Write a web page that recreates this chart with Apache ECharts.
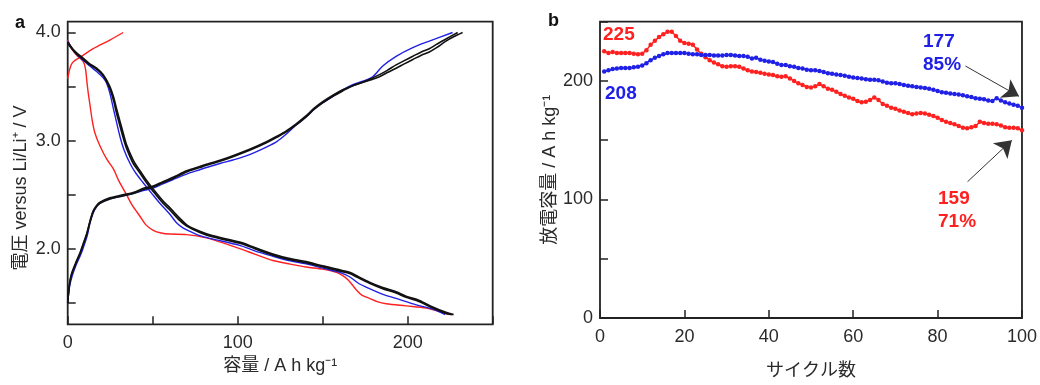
<!DOCTYPE html>
<html>
<head>
<meta charset="utf-8">
<script src="https://cdn.jsdelivr.net/npm/echarts@6/dist/echarts.min.js"></script>
<style>
  html, body { margin: 0; padding: 0; background: #fff; }
  #chart { width: 1040px; height: 385px; }
</style>
</head>
<body>
<div id="chart"></div>
<script>
// panel a: [capacity (A h/kg), voltage (V)]
const redCharge = [[0,3.57],[1,3.65],[2,3.7],[3.3,3.73],[7.2,3.77],[15,3.85],[24.8,3.93],[32.6,4.0]];
const redDischarge = [[0,3.93],[2,3.86],[5.3,3.79],[9.2,3.73],[10.5,3.66],[11.2,3.56],[12,3.45],[13.1,3.33],[14.5,3.18],[16,3.07],[19,2.95],[22.9,2.83],[26.8,2.74],[30,2.63],[34.6,2.5],[38,2.4],[42.5,2.3],[46,2.22],[50.3,2.17],[55,2.145],[60,2.135],[69.9,2.13],[81.6,2.1],[90,2.06],[101.2,2.0],[110,1.95],[120.7,1.89],[130,1.86],[140.3,1.83],[150,1.81],[158,1.78],[161.8,1.75],[165,1.71],[169.7,1.62],[173,1.57],[177.5,1.54],[182,1.51],[187.3,1.49],[199,1.47],[210.8,1.45],[218,1.42],[224.5,1.39]];
const blueCharge = [[0,1.5],[1,1.64],[2.5,1.74],[5,1.85],[7.5,1.94],[9,2.0],[11.5,2.12],[13,2.23],[15,2.33],[17,2.39],[19,2.42],[24.8,2.46],[30,2.48],[38.5,2.51],[45,2.54],[50.3,2.56],[56,2.6],[62,2.64],[70,2.69],[77.7,2.73],[83.6,2.76],[90,2.79],[97.2,2.82],[107,2.87],[116.9,2.94],[123,2.99],[128.6,3.06],[134,3.14],[140.3,3.22],[145,3.29],[150,3.35],[154.2,3.39],[161.8,3.47],[168,3.52],[173.6,3.55],[179.4,3.59],[185.3,3.69],[193.2,3.78],[203,3.86],[212.7,3.92],[226.4,4.0]];
const blueDischarge = [[0,3.92],[4,3.82],[9.2,3.74],[13,3.69],[17,3.64],[20.9,3.58],[22.9,3.53],[24.8,3.44],[26.8,3.3],[28,3.22],[30.7,3.04],[33,2.92],[36.6,2.79],[40,2.7],[44.4,2.61],[50,2.5],[54.2,2.42],[60,2.32],[64,2.24],[68,2.19],[72,2.16],[77.7,2.12],[85,2.09],[101.2,2.03],[110,1.98],[120.7,1.93],[130,1.89],[140.3,1.86],[150,1.82],[160,1.78],[165.8,1.74],[171,1.68],[177.5,1.63],[185,1.58],[193.2,1.54],[205,1.48],[214.7,1.44],[222,1.39]];
const blackChargeA = [[0,1.5],[1,1.66],[2.3,1.76],[5,1.87],[7.2,1.95],[9,2.03],[11.2,2.13],[13,2.24],[15,2.34],[17,2.39],[19,2.42],[24.8,2.46],[30,2.48],[38.5,2.51],[45,2.55],[50.3,2.57],[56,2.61],[62,2.65],[70,2.71],[77.7,2.75],[83.6,2.78],[90,2.81],[97.2,2.85],[107,2.91],[116.9,2.98],[123,3.03],[128.6,3.08],[134,3.14],[140.3,3.22],[145,3.29],[150,3.35],[156,3.41],[161.8,3.46],[168,3.51],[173.6,3.54],[178,3.56],[183.4,3.59],[188,3.63],[193.2,3.67],[198,3.71],[203,3.75],[208,3.79],[212.7,3.82],[217,3.86],[222.5,3.92],[227,3.96],[232.3,4.0]];
const blackChargeB = [[0,1.5],[1,1.67],[2.3,1.77],[5,1.88],[7.2,1.96],[9,2.04],[11.2,2.14],[13,2.25],[15,2.35],[17,2.4],[19,2.43],[24.8,2.47],[30,2.49],[38.5,2.52],[45,2.56],[50.3,2.58],[56,2.62],[62,2.66],[70,2.72],[77.7,2.76],[83.6,2.79],[90,2.82],[97.2,2.86],[107,2.92],[116.9,2.99],[123,3.04],[128.6,3.09],[134,3.15],[140.3,3.23],[145,3.3],[150,3.36],[156,3.42],[161.8,3.47],[168,3.51],[173.6,3.54],[178,3.57],[183.4,3.61],[188,3.65],[193.2,3.7],[198,3.74],[203,3.78],[208,3.82],[212.7,3.85],[217,3.89],[222.5,3.94],[229.4,4.0]];
const blackDischargeA = [[0,3.9],[4,3.82],[9.2,3.75],[13,3.7],[17,3.66],[20.9,3.6],[24.8,3.48],[27,3.37],[28.8,3.25],[30.7,3.14],[32.6,3.03],[34.6,2.93],[38.5,2.79],[42.5,2.7],[46.4,2.61],[50.3,2.53],[56.1,2.42],[60,2.36],[66,2.26],[70,2.21],[77.7,2.15],[85,2.11],[101.2,2.05],[110,2.0],[120.7,1.94],[130,1.9],[140.3,1.87],[150,1.83],[158,1.8],[165.8,1.77],[171,1.73],[177.5,1.68],[185.3,1.63],[193.2,1.59],[199,1.55],[206.9,1.51],[214.7,1.45],[222.5,1.4],[226,1.39]];
const blackDischargeB = [[0,3.91],[4,3.83],[9.2,3.76],[13,3.71],[17,3.67],[20.9,3.61],[24.8,3.5],[27,3.4],[28.8,3.29],[30.7,3.18],[32.6,3.07],[34.6,2.96],[38.5,2.82],[42.5,2.72],[46.4,2.63],[50.3,2.55],[56.1,2.44],[60,2.38],[66,2.28],[70,2.22],[77.7,2.16],[85,2.12],[101.2,2.06],[110,2.01],[120.7,1.95],[130,1.91],[140.3,1.88],[150,1.84],[158,1.81],[165.8,1.78],[171,1.74],[177.5,1.69],[185.3,1.64],[193.2,1.6],[199,1.56],[206.9,1.52],[214.7,1.46],[222.5,1.41],[227,1.39]];

// panel b: discharge capacity per cycle (cycles 1..100)
const cycles = Array.from({ length: 100 }, (_, i) => i + 1);
const redCapacity = [
  225,223.5,224.5,223.5,223.5,223.5,223.5,223,222.5,223,
  226,230.5,234,237,239.5,241.5,241.5,238,234,232,
  231.5,230.5,226.5,223,220,217.5,215.5,214,212.5,212,
  212.5,212.5,212,210.5,209,208,207.5,207,206,205.5,
  205,204,203.5,204,202,200,198,196.5,195,194.5,
  195.5,197.5,195.5,193.5,192.5,191,189,187.5,186,185,
  183,182,182.5,184,186,184,180.5,179,177.5,176.5,
  175,174,173,172,172.5,173,172.5,171.5,170.5,169,
  167,165.5,164.5,163.5,162,160.5,160,161,162,165.5,
  164.5,164,164,163.5,162.5,161,160.5,160.5,160,158.5
];
const blueCapacity = [
  208,209,210,210.5,211,211,211,211.5,212,213,
  215,217.5,219.5,221,222.5,223.5,223.5,223.5,223.5,223.5,
  223,222.5,222.5,222,222,222,221.5,221.5,221.5,222,
  222,221.5,221,221,220.5,219,219.5,218,217,216.5,
  216,214.5,213.5,213.5,212.5,212,211,210.5,209.5,209,
  209,208.5,207.5,206.5,206,205.5,205,204.5,203.5,203,
  202.5,202,201.5,201,201,200.5,199.5,198.5,198,198,
  197.5,196.5,196,195.5,195,194.5,194,193.5,192.5,191.5,
  190.5,190,189.5,189,188.5,188,187,186.5,185.5,185,
  184.5,183.5,183,185.5,183.5,182,181,180,179,177.5
];
// annotation arrows [cycle, capacity] from -> to
const blueArrow = [[86.6, 212.6], [99.3, 187]];
const redArrow = [[87.1, 115], [97.6, 150]];

const RED = "#ff2020";
const BLUE = "#2020e6";
const BLACK = "#111";
const FONT = "'Liberation Sans', 'Noto Sans CJK JP', sans-serif";
const TXT = "#2a2a2a";

const chart = echarts.init(document.getElementById("chart"));

const boxGrid = {
  show: true, borderColor: "#222", borderWidth: 1.8, backgroundColor: "transparent"
};
const baseAxis = {
  axisLine: { show: false },
  axisTick: { inside: true, length: 8, lineStyle: { color: "#222", width: 1.5 } },
  splitLine: { show: false },
  axisLabel: { color: TXT, fontSize: 18, fontFamily: FONT },
  nameTextStyle: { color: TXT, fontSize: 18, fontFamily: FONT },
};

function curve(data, color, width, z) {
  return {
    type: "line", xAxisIndex: 0, yAxisIndex: 0, data, smooth: 0.3,
    showSymbol: false, z, lineStyle: { color, width }, silent: true,
  };
}

chart.setOption({
  animation: false,
  grid: [
    Object.assign({ left: 67.7, top: 21.7, width: 425, height: 302.6 }, boxGrid),
    Object.assign({ left: 600, top: 21.7, width: 425, height: 302.6 }, boxGrid),
  ],
  xAxis: [
    Object.assign({}, baseAxis, {
      type: "value", gridIndex: 0, min: 0, max: 250, interval: 50,
      name: "容量 / A h kg⁻¹", nameLocation: "middle", nameGap: 31,
      axisLabel: Object.assign({}, baseAxis.axisLabel, {
        margin: 10, formatter: (v) => (v % 100 === 0 ? String(v) : ""),
      }),
    }),
    Object.assign({}, baseAxis, {
      type: "value", gridIndex: 1, min: 0, max: 100, interval: 20,
      name: "サイクル数", nameLocation: "middle", nameGap: 44,
      axisLabel: Object.assign({}, baseAxis.axisLabel, { margin: 10 }),
    }),
  ],
  yAxis: [
    Object.assign({}, baseAxis, {
      type: "value", gridIndex: 0, min: 1.3, max: 4.1,
      name: "電圧 versus Li/Li⁺ / V", nameLocation: "middle", nameGap: 38,
      nameTextStyle: Object.assign({}, baseAxis.nameTextStyle, { padding: [0, 30, 0, 0] }),
      axisTick: Object.assign({}, baseAxis.axisTick, { customValues: [1.5, 2, 2.5, 3, 3.5, 4] }),
      axisLabel: Object.assign({}, baseAxis.axisLabel, {
        margin: 7, customValues: [2, 3, 4], formatter: (v) => Number(v).toFixed(1),
      }),
    }),
    Object.assign({}, baseAxis, {
      type: "value", gridIndex: 1, min: 0, max: 250, interval: 50,
      name: "放電容量 / A h kg⁻¹", nameLocation: "middle", nameGap: 40,
      axisLabel: Object.assign({}, baseAxis.axisLabel, {
        margin: 7, formatter: (v) => (v % 100 === 0 ? String(v) : ""),
      }),
    }),
  ],
  series: [
    curve(redCharge, RED, 1.4, 2),
    curve(redDischarge, RED, 1.4, 2),
    curve(blueCharge, BLUE, 1.4, 3),
    curve(blueDischarge, BLUE, 1.4, 3),
    curve(blackChargeA, BLACK, 1.6, 4),
    curve(blackChargeB, BLACK, 1.6, 4),
    curve(blackDischargeA, BLACK, 1.7, 4),
    curve(blackDischargeB, BLACK, 1.7, 4),
    {
      type: "line", xAxisIndex: 1, yAxisIndex: 1, silent: true,
      data: cycles.map((c, i) => [c, redCapacity[i]]),
      symbol: "circle", symbolSize: 4.5, showAllSymbol: true,
      itemStyle: { color: RED }, lineStyle: { color: RED, width: 1.5 },
    },
    {
      type: "line", xAxisIndex: 1, yAxisIndex: 1, silent: true,
      data: cycles.map((c, i) => [c, blueCapacity[i]]),
      symbol: "circle", symbolSize: 4.5, showAllSymbol: true,
      itemStyle: { color: BLUE }, lineStyle: { color: BLUE, width: 1.5 },
      markLine: {
        silent: true, symbol: ["none", "arrow"], symbolSize: 16,
        label: { show: false },
        lineStyle: { color: "#333", width: 1, type: "solid" },
        itemStyle: { color: "#111" },
        data: [
          [{ coord: blueArrow[0] }, { coord: blueArrow[1] }],
          [{ coord: redArrow[0] }, { coord: redArrow[1] }],
        ],
      },
    },
  ],
  graphic: [
    { type: "text", left: 15, top: 14, style: { text: "a", font: `bold 18px ${FONT}`, fill: "#111" } },
    { type: "text", left: 548, top: 12, style: { text: "b", font: `bold 18px ${FONT}`, fill: "#111" } },
    { type: "text", left: 603, top: 25, style: { text: "225", font: `bold 19px ${FONT}`, fill: RED } },
    { type: "text", left: 605, top: 84, style: { text: "208", font: `bold 19px ${FONT}`, fill: BLUE } },
    { type: "text", left: 923, top: 32, style: { text: "177", font: `bold 19px ${FONT}`, fill: BLUE } },
    { type: "text", left: 923, top: 55, style: { text: "85%", font: `bold 19px ${FONT}`, fill: BLUE } },
    { type: "text", left: 938, top: 189, style: { text: "159", font: `bold 19px ${FONT}`, fill: RED } },
    { type: "text", left: 938, top: 212, style: { text: "71%", font: `bold 19px ${FONT}`, fill: RED } },
  ],
});
</script>
</body>
</html>
